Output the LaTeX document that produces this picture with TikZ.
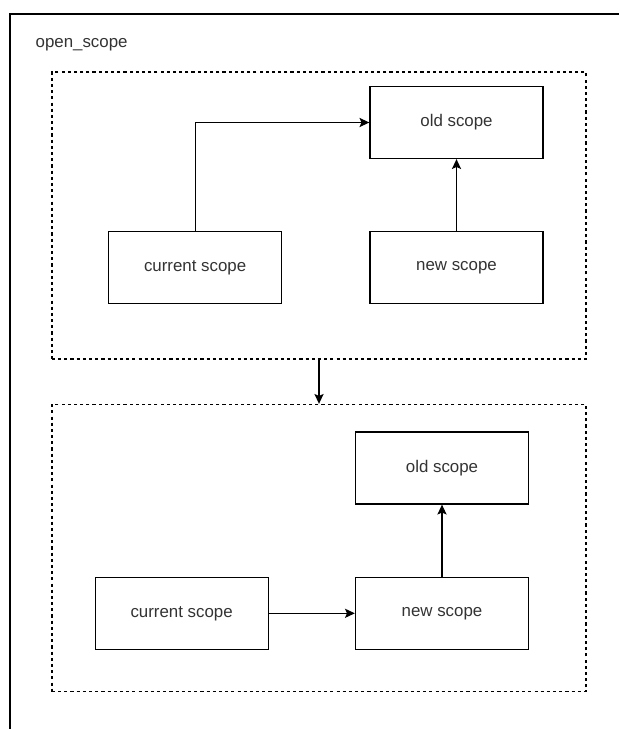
\documentclass[tikz,border=0pt]{standalone}
\usepackage{fontspec}
\setmainfont{Liberation Sans}
\usetikzlibrary{positioning,arrows.meta}
\definecolor{textgray}{HTML}{333333}

\begin{document}
\begin{tikzpicture}[x=0.025cm, y=-0.025cm, node distance=1.8cm, line width=0.9pt, >={Stealth[length=7pt, width=6.5pt, inset=1.4pt]}]
    \tikzstyle{scopebox} = [rectangle, draw, minimum width=4.325cm, minimum height=1.8cm, inner sep=0pt, text=textgray, font=\fontsize{12}{14}\selectfont]
    \tikzstyle{stage} = [rectangle, draw, dash pattern=on 2.2pt off 2.2pt, minimum width=13.35cm, minimum height=7.175cm, inner sep=0pt]

    \useasboundingbox (0,0) rectangle (619,729);

    % Outer frame
    \draw (10,729) -- (10,14) -- (619,14);
    \node [anchor=west, inner sep=0pt, text=textgray, font=\fontsize{12}{14}\selectfont] (title) at (35,45) {open\_scope};

    % Before
    \node [stage] (before) at (319,215.5) {};
    \node [scopebox] (old1) at (456.5,122.5) {old scope};
    \node [scopebox, below=of old1] (new1) {new scope};
    \node [scopebox, left=2.175cm of new1] (cur1) {current scope};

    \draw [->] (cur1.north) |- (old1.west);
    \draw [->] (new1) -- (old1);

    % After
    \node [stage] (after) at (319,548) {};
    \node [scopebox] (old2) at (442,468) {old scope};
    \node [scopebox, below=of old2] (new2) {new scope};
    \node [scopebox, left=2.15cm of new2] (cur2) {current scope};

    \draw [->] (cur2) -- (new2);
    \draw [->] (new2) -- (old2);

    % Transition
    \draw [->] (before) -- (after);
\end{tikzpicture}
\end{document}
